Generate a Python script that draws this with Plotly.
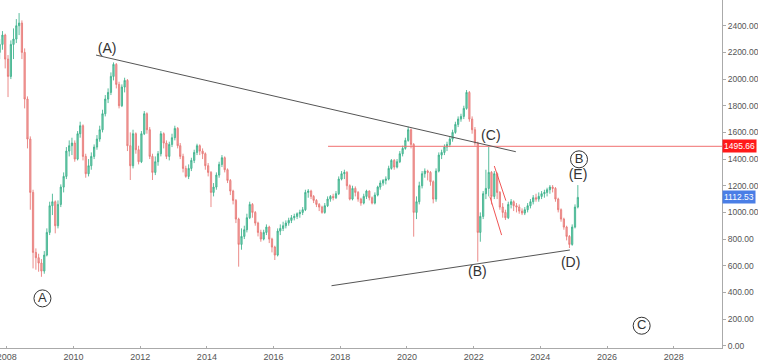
import plotly.graph_objects as go

# ---- monthly OHLC (open = previous close) ----
start_year, start_month = 2007, 10
first_open = 2200
closes = [
    2260, 2330, 2150,
    2020, 2260, 2300, 2400, 2420, 2200, 1850, 1550, 1150, 700, 660, 620,
    560, 680, 850, 1050, 1080, 900, 1060, 1190, 1270, 1460, 1500, 1520,
    1400, 1590, 1650, 1420, 1290, 1350, 1420, 1490, 1550, 1620, 1740, 1850,
    1900, 2020, 2110, 1960, 1800, 1940, 1990, 1500, 1350, 1590, 1470, 1380,
    1590, 1740, 1620, 1420, 1300, 1380, 1440, 1590, 1520, 1420, 1510, 1560,
    1630, 1500, 1420, 1330, 1270, 1330, 1390, 1450, 1500, 1460, 1440, 1350,
    1300, 1150, 1190, 1280, 1360, 1410, 1320, 1240, 1160, 1090, 950, 760,
    820, 870, 960, 1060, 1000, 920, 850, 800, 850, 890, 800, 740,
    680, 860, 880, 900, 920, 940, 960, 970, 990, 1000, 1020, 1150,
    1160, 1120, 1090, 1060, 1040, 1000, 1050, 1100, 1120, 1110, 1140, 1250,
    1290, 1300, 1200, 1100, 1180, 1150, 1100, 1070, 1120, 1160, 1110, 1070,
    1130, 1190, 1220, 1240, 1250, 1330, 1390, 1340, 1380, 1440, 1480, 1540,
    1620, 1510, 1000, 1080, 1200, 1290, 1310, 1300, 1230, 1100, 1310, 1430,
    1450, 1490, 1510, 1550, 1600, 1660, 1700, 1720, 1780, 1900, 1700, 1620,
    1520, 850, 970, 1140, 1180, 1300, 1120, 1290, 1150, 1040, 1000, 960,
    1060, 1080, 1050, 1040, 1010, 995, 1020, 1050, 1080, 1110, 1100, 1120,
    1140, 1150, 1170, 1190, 1180, 1100, 1020, 950, 890, 820, 760, 890,
    1040, 1112.53,
]
highs = [
    2300, 2360, 2340,
    2180, 2290, 2380, 2450, 2495, 2440, 2230, 1870, 1570, 1170, 730, 690,
    650, 710, 880, 1080, 1140, 1090, 1090, 1210, 1300, 1490, 1540, 1560,
    1540, 1610, 1680, 1660, 1440, 1400, 1450, 1510, 1580, 1650, 1770, 1880,
    1930, 2050, 2125, 2120, 1980, 1960, 2010, 2000, 1600, 1620, 1600, 1500,
    1610, 1760, 1750, 1640, 1440, 1420, 1460, 1610, 1600, 1540, 1530, 1590,
    1650, 1640, 1520, 1440, 1350, 1360, 1410, 1470, 1515, 1510, 1480, 1450,
    1370, 1310, 1220, 1300, 1380, 1430, 1420, 1330, 1250, 1170, 1100, 960,
    880, 900, 990, 1080, 1070, 1010, 930, 870, 870, 910, 900, 810,
    750, 880, 910, 930, 940, 960, 980, 990, 1000, 1020, 1040, 1170,
    1175, 1170, 1130, 1100, 1070, 1050, 1070, 1120, 1130, 1140, 1160, 1270,
    1310, 1320, 1310, 1210, 1200, 1195, 1160, 1110, 1140, 1170, 1165, 1120,
    1150, 1200, 1240, 1250, 1270, 1350, 1400, 1400, 1400, 1460, 1500, 1560,
    1643, 1630, 1520, 1120, 1230, 1310, 1330, 1320, 1310, 1240, 1330, 1450,
    1470, 1510, 1530, 1570, 1620, 1680, 1720, 1740, 1800, 1918, 1910, 1720,
    1640, 1530, 1000, 1160, 1320, 1493, 1310, 1310, 1300, 1160, 1070, 1020,
    1080, 1100, 1090, 1070, 1060, 1030, 1040, 1070, 1100, 1130, 1140, 1150,
    1160, 1170, 1185, 1205, 1205, 1190, 1110, 1030, 960, 900, 830, 910,
    1060, 1205,
]
lows = [
    2150, 2220, 2080,
    1865, 2000, 2150, 2270, 2330, 2150, 1780, 1480, 1020, 580, 570, 555,
    517, 540, 670, 830, 980, 843, 880, 1040, 1150, 1250, 1420, 1430,
    1380, 1390, 1560, 1390, 1260, 1270, 1320, 1400, 1470, 1530, 1600, 1720,
    1820, 1880, 1990, 1930, 1780, 1790, 1900, 1460, 1243, 1330, 1440, 1360,
    1370, 1580, 1590, 1400, 1243, 1280, 1350, 1420, 1480, 1400, 1390, 1490,
    1540, 1480, 1400, 1300, 1260, 1250, 1310, 1370, 1430, 1430, 1400, 1320,
    1270, 1040, 1120, 1170, 1260, 1340, 1300, 1220, 1130, 1060, 920, 593,
    720, 800, 850, 950, 960, 900, 820, 780, 790, 830, 770, 700,
    643, 670, 830, 860, 880, 900, 920, 940, 950, 960, 980, 1010,
    1110, 1100, 1070, 1040, 1010, 990, 990, 1040, 1080, 1090, 1100, 1130,
    1240, 1250, 1170, 1090, 1090, 1120, 1080, 1050, 1060, 1100, 1090, 1060,
    1060, 1120, 1170, 1200, 1210, 1240, 1320, 1320, 1330, 1370, 1420, 1470,
    1530, 1480, 818, 950, 1060, 1180, 1260, 1240, 1200, 1068, 1080, 1300,
    1400, 1430, 1460, 1490, 1530, 1590, 1640, 1680, 1700, 1770, 1680, 1590,
    1500, 630, 780, 950, 1100, 1120, 1060, 1100, 1100, 1020, 960, 943,
    950, 1030, 1010, 1000, 990, 980, 980, 1000, 1030, 1060, 1080, 1080,
    1100, 1110, 1120, 1140, 1150, 1080, 1000, 930, 870, 790, 733, 750,
    880, 1030,
]

# ---- drawn lines / labels (dates, values) ----
upper_trend_x = ["2010-09-05", "2023-04-08"]
upper_trend_y = [2180, 1455]
lower_trend_x = ["2017-09-27", "2024-11-20"]
lower_trend_y = [450, 718]
level_x = ["2017-08-20", "2029-08-01"]
level_value = 1495.66
last_value = 1112.53
red1_x = ["2022-08-15", "2022-12-20"]
red1_y = [1348, 1088]
red2_x = ["2022-06-28", "2022-11-03"]
red2_y = [1118, 830]

wave_text = ["(A)", "(C)", "(E)", "(B)", "(D)"]
wave_x = ["2011-01-05", "2022-07-08", "2025-02-17", "2022-02-10", "2024-11-28"]
wave_y = [2223, 1573, 1280, 553, 620]

circle_text = ["A", "B", "C"]
circle_x = ["2009-01-26", "2025-02-28", "2027-01-15"]
circle_y = [355, 1398, 150]

# build dates
dates = []
y, m = start_year, start_month
for _ in closes:
    dates.append(f"{y}-{m:02d}-15")
    m += 1
    if m > 12:
        m = 1
        y += 1
opens = [first_open] + closes[:-1]

fig = go.Figure()
fig.add_trace(go.Candlestick(
    x=dates, open=opens, high=highs, low=lows, close=closes,
    increasing=dict(line=dict(color="rgba(60,178,140,0.85)", width=1), fillcolor="rgba(95,196,160,0.8)"),
    decreasing=dict(line=dict(color="rgba(232,120,118,0.85)", width=1), fillcolor="rgba(238,150,148,0.8)"),
    whiskerwidth=0, showlegend=False, hoverinfo="skip",
))

line_font = "Liberation Sans, Arial, sans-serif"
fig.add_trace(go.Scatter(x=level_x, y=[level_value, level_value], mode="lines",
                         line=dict(color="#f07070", width=1), showlegend=False, hoverinfo="skip"))
fig.add_trace(go.Scatter(x=upper_trend_x, y=upper_trend_y, mode="lines",
                         line=dict(color="#555555", width=1), showlegend=False, hoverinfo="skip"))
fig.add_trace(go.Scatter(x=lower_trend_x, y=lower_trend_y, mode="lines",
                         line=dict(color="#555555", width=1), showlegend=False, hoverinfo="skip"))
for rx, ry in ((red1_x, red1_y), (red2_x, red2_y)):
    fig.add_trace(go.Scatter(x=rx, y=ry, mode="lines",
                             line=dict(color="#f05555", width=1), showlegend=False, hoverinfo="skip"))

fig.add_trace(go.Scatter(x=wave_x, y=wave_y, mode="text", text=wave_text,
                         textfont=dict(family=line_font, size=14, color="#333333"),
                         textposition="middle center", showlegend=False, hoverinfo="skip"))
fig.add_trace(go.Scatter(x=circle_x, y=circle_y, mode="markers+text", text=circle_text,
                         marker=dict(symbol="circle-open", size=17, color="#333333",
                                     line=dict(color="#333333", width=1)),
                         textfont=dict(family=line_font, size=13, color="#333333"),
                         textposition="middle center", showlegend=False, hoverinfo="skip"))

fig.add_annotation(x=1, xref="paper", xanchor="left", y=level_value, yref="y",
                   text=f"{level_value:.2f}", showarrow=False, bgcolor="#ff1a1a",
                   font=dict(family=line_font, size=8.5, color="white"), borderpad=1)
fig.add_annotation(x=1, xref="paper", xanchor="left", y=last_value, yref="y",
                   text=f"{last_value:.2f}", showarrow=False, bgcolor="#4a7ee6",
                   font=dict(family=line_font, size=8.5, color="white"), borderpad=1)

fig.update_layout(
    width=758, height=362,
    margin=dict(l=0, r=36, t=0, b=14),
    paper_bgcolor="white", plot_bgcolor="white",
    xaxis=dict(type="date", range=["2007-10-19", "2029-06-13"], automargin=False,
               rangeslider=dict(visible=False), showgrid=False, zeroline=False,
               showline=True, linecolor="#aaaaaa", linewidth=1,
               ticks="inside", ticklen=2, tickcolor="#aaaaaa", ticklabeloverflow="allow",
               dtick="M24", tick0="2008-01-01", tickformat="%Y",
               tickfont=dict(family=line_font, size=9, color="#555555")),
    yaxis=dict(side="right", range=[-17, 2593], showgrid=False, zeroline=False, automargin=False,
               showline=True, linecolor="#aaaaaa", linewidth=1,
               ticks="outside", ticklen=3, tickcolor="#aaaaaa", ticklabeloverflow="allow",
               dtick=200, tick0=0, tickformat=".2f",
               tickfont=dict(family=line_font, size=8.5, color="#555555")),
)

fig.write_html("out.html", config={"displayModeBar": False},
               post_script="document.body.style.margin='0';document.body.style.overflow='hidden';")
